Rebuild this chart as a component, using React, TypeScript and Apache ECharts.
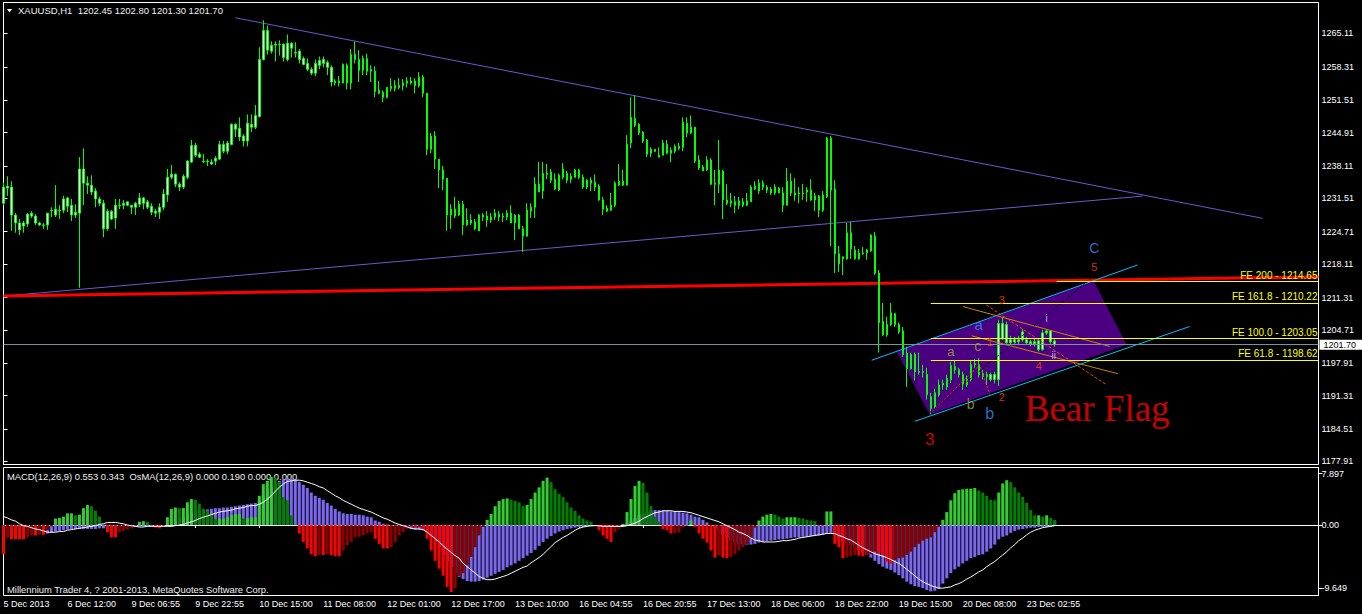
import React, { useEffect, useRef } from "react";
import * as echarts from "echarts";

const symbolName = "XAUUSD";
const timeframe = "H1";

// [open, close, low, high] per H1 bar
const candles: number[][] = [
  [1230.5,1233.8,1230.1,1234.8],[1233.6,1234.0,1232.0,1236.0],[1233.8,1228.1,1224.9,1235.0],[1228.1,1226.5,1224.5,1228.5],[1226.5,1225.1,1224.0,1227.3],
  [1225.9,1226.5,1224.5,1226.9],[1226.3,1228.3,1225.7,1228.5],[1228.5,1227.9,1227.5,1228.9],[1227.9,1226.5,1226.1,1228.3],[1226.5,1226.1,1225.9,1226.7],
  [1226.1,1226.0,1225.3,1226.5],[1226.1,1228.5,1225.1,1228.5],[1229.1,1229.0,1227.7,1229.7],[1228.1,1229.3,1227.7,1234.2],[1229.1,1229.0,1227.3,1230.1],
  [1229.1,1231.4,1228.5,1232.0],[1231.6,1229.9,1228.7,1231.8],[1230.1,1228.1,1226.9,1231.4],[1228.1,1228.7,1227.5,1230.3],[1228.5,1237.5,1213.3,1239.9],
  [1237.5,1234.6,1230.1,1241.7],[1234.6,1234.2,1232.4,1236.0],[1234.2,1232.8,1232.2,1236.2],[1233.0,1231.4,1229.7,1233.6],[1231.4,1230.5,1229.9,1231.8],
  [1230.5,1225.3,1223.6,1231.2],[1225.3,1228.9,1224.9,1229.3],[1228.9,1227.3,1227.1,1229.1],[1227.5,1230.1,1225.3,1231.4],[1230.1,1230.0,1229.3,1231.4],
  [1230.1,1230.5,1229.3,1231.2],[1230.8,1230.1,1229.9,1230.8],[1230.1,1229.7,1228.3,1230.1],[1229.7,1230.5,1228.1,1230.8],[1230.3,1231.6,1229.7,1232.6],
  [1231.6,1230.5,1229.3,1231.8],[1230.8,1229.7,1229.3,1231.2],[1229.9,1228.7,1228.1,1230.5],[1228.9,1228.5,1227.7,1229.3],[1228.7,1229.7,1227.3,1230.5],
  [1229.7,1232.4,1229.1,1233.4],[1232.2,1235.8,1230.8,1237.5],[1235.8,1236.4,1235.4,1238.3],[1236.4,1234.4,1233.8,1236.6],[1234.4,1233.8,1233.0,1234.8],
  [1233.8,1236.0,1233.4,1236.4],[1235.8,1239.1,1235.4,1239.3],[1238.9,1242.3,1238.7,1243.4],[1242.3,1240.3,1239.9,1242.8],[1240.5,1239.9,1239.7,1240.9],
  [1239.1,1239.0,1238.7,1240.5],[1239.1,1239.0,1238.1,1239.5],[1238.9,1238.5,1238.3,1239.5],[1239.1,1239.7,1238.3,1240.1],[1239.5,1242.5,1239.3,1243.2],
  [1242.5,1241.1,1240.7,1243.2],[1241.1,1242.8,1240.5,1243.2],[1242.5,1246.6,1242.3,1246.8],[1246.6,1245.6,1244.0,1246.8],[1245.8,1244.0,1243.2,1248.0],
  [1244.2,1243.2,1242.1,1244.6],[1243.2,1246.8,1242.1,1248.6],[1246.6,1246.0,1245.0,1248.6],[1246.0,1248.4,1245.6,1250.5],[1248.2,1259.8,1248.0,1262.3],
  [1259.8,1265.7,1259.6,1267.8],[1265.7,1261.7,1260.8,1266.7],[1262.7,1261.5,1261.0,1263.5],[1262.7,1262.9,1259.4,1263.5],[1262.9,1262.8,1260.6,1263.7],
  [1262.9,1260.2,1259.4,1263.1],[1259.8,1263.1,1259.4,1264.9],[1263.1,1262.1,1260.2,1263.3],[1261.2,1261.1,1260.2,1263.3],[1261.5,1259.8,1259.0,1261.9],
  [1260.0,1258.8,1258.6,1260.4],[1259.0,1257.8,1257.4,1260.0],[1257.8,1257.0,1256.6,1258.2],[1257.0,1259.0,1256.4,1259.8],[1258.6,1259.6,1257.8,1260.4],
  [1259.0,1259.8,1258.2,1260.4],[1259.2,1258.2,1256.6,1259.6],[1258.2,1255.2,1254.3,1258.6],[1255.4,1255.0,1254.5,1255.8],[1255.0,1255.4,1254.3,1256.4],
  [1255.0,1258.8,1255.0,1259.0],[1258.6,1255.0,1253.7,1259.0],[1255.0,1260.8,1253.7,1261.9],[1260.8,1259.8,1259.0,1263.5],[1259.8,1257.6,1255.2,1261.7],
  [1257.6,1260.0,1256.6,1260.6],[1260.0,1257.4,1256.6,1261.0],[1257.4,1257.8,1255.2,1258.6],[1257.4,1253.3,1252.1,1258.4],[1253.5,1252.9,1252.7,1255.4],
  [1253.1,1252.1,1251.1,1253.5],[1252.1,1254.1,1251.9,1254.1],[1253.9,1254.3,1253.3,1256.0],[1254.5,1253.9,1253.3,1255.6],[1254.1,1254.5,1253.7,1256.0],
  [1254.5,1255.0,1253.5,1255.8],[1255.0,1255.4,1254.1,1256.2],[1255.4,1255.0,1254.7,1256.2],[1255.4,1254.5,1252.9,1256.0],[1254.5,1256.2,1254.1,1257.2],
  [1256.2,1252.9,1252.1,1256.6],[1252.9,1241.5,1240.3,1252.9],[1241.5,1244.2,1240.7,1244.8],[1244.2,1239.5,1237.5,1245.2],[1239.5,1237.3,1233.6,1239.5],
  [1237.3,1235.4,1233.2,1238.1],[1235.6,1228.1,1224.9,1235.6],[1228.1,1229.3,1225.3,1230.3],[1229.3,1227.9,1227.5,1231.8],[1228.1,1230.3,1227.9,1231.0],
  [1230.3,1226.1,1224.0,1231.0],[1226.1,1227.1,1225.9,1229.5],[1227.1,1226.5,1226.1,1228.3],[1226.7,1225.3,1225.1,1227.3],[1224.9,1228.1,1224.9,1228.3],
  [1228.1,1227.7,1226.9,1228.5],[1227.9,1227.1,1225.7,1228.9],[1227.1,1227.7,1226.5,1228.5],[1227.7,1228.5,1227.1,1229.3],[1228.3,1227.7,1226.9,1228.9],
  [1227.9,1227.7,1226.7,1228.5],[1227.7,1228.5,1227.1,1229.1],[1228.5,1226.5,1226.5,1230.1],[1226.5,1228.1,1223.0,1228.3],[1228.1,1225.3,1225.3,1228.3],
  [1225.3,1223.8,1220.6,1225.9],[1223.8,1229.1,1223.8,1230.5],[1228.9,1229.7,1227.5,1230.5],[1229.7,1234.4,1227.5,1235.8],[1234.4,1232.8,1232.8,1238.9],
  [1233.0,1236.6,1231.4,1238.9],[1236.6,1236.4,1235.4,1238.5],[1236.9,1235.2,1234.6,1237.5],[1235.4,1233.4,1233.2,1236.6],[1233.2,1236.2,1233.0,1236.6],
  [1235.8,1237.5,1235.4,1238.7],[1236.6,1235.2,1234.6,1237.1],[1235.4,1236.0,1234.6,1236.6],[1235.8,1237.3,1235.8,1237.5],[1237.3,1235.8,1235.4,1237.5],
  [1235.8,1233.8,1233.4,1236.4],[1233.8,1235.2,1233.4,1235.4],[1235.2,1234.6,1233.0,1235.8],[1234.8,1233.8,1233.0,1236.4],[1234.0,1231.2,1231.0,1234.4],
  [1231.2,1229.3,1228.1,1231.8],[1229.5,1228.9,1228.7,1230.1],[1229.1,1230.1,1228.9,1232.6],[1230.1,1234.6,1229.7,1235.0],[1234.2,1235.0,1234.0,1238.5],
  [1235.0,1234.2,1234.0,1237.3],[1234.2,1242.5,1234.2,1244.4],[1242.8,1248.0,1241.7,1252.1],[1247.8,1246.4,1246.0,1252.5],[1246.6,1244.8,1244.4,1246.8],
  [1245.0,1243.2,1242.8,1245.2],[1243.4,1240.5,1239.9,1243.6],[1240.7,1241.5,1239.9,1241.9],[1241.5,1241.1,1240.9,1241.5],[1240.3,1239.9,1239.9,1241.9],
  [1240.3,1242.8,1240.3,1243.4],[1242.5,1240.7,1240.5,1243.4],[1240.7,1241.3,1238.9,1241.9],[1241.1,1242.1,1240.7,1242.5],[1242.1,1241.7,1241.3,1242.8],
  [1241.9,1247.0,1241.1,1248.0],[1246.8,1244.8,1244.0,1248.0],[1244.8,1246.0,1244.6,1248.4],[1246.0,1239.1,1238.7,1246.0],[1239.3,1237.7,1237.3,1240.3],
  [1237.9,1237.1,1237.1,1238.3],[1237.3,1239.3,1237.1,1240.1],[1239.3,1234.4,1234.2,1239.7],[1234.6,1234.4,1230.1,1237.3],[1234.4,1237.3,1232.6,1243.4],
  [1237.1,1231.2,1227.3,1237.3],[1231.2,1230.5,1230.1,1234.4],[1231.0,1230.5,1229.7,1232.6],[1230.8,1230.1,1228.5,1232.0],[1230.1,1231.0,1229.3,1231.8],
  [1230.8,1230.1,1229.7,1231.6],[1230.1,1231.0,1229.9,1232.6],[1230.8,1233.8,1230.8,1234.2],[1234.0,1233.4,1233.2,1235.0],[1233.0,1234.6,1232.4,1235.4],
  [1234.6,1233.8,1233.2,1235.2],[1233.8,1233.2,1232.6,1234.2],[1233.4,1232.6,1232.2,1233.8],[1232.6,1233.8,1232.2,1234.4],[1233.6,1232.6,1232.6,1233.8],
  [1232.6,1230.1,1228.7,1233.8],[1230.1,1235.0,1230.1,1237.7],[1235.0,1232.6,1232.0,1236.6],[1232.6,1232.2,1231.0,1235.6],[1232.6,1232.4,1230.5,1233.8],
  [1232.4,1232.6,1231.2,1234.4],[1232.8,1233.2,1230.8,1233.8],[1233.2,1231.2,1231.0,1235.4],[1231.2,1232.0,1228.9,1232.6],[1232.0,1229.1,1227.7,1232.2],
  [1229.1,1232.2,1228.7,1233.0],[1231.8,1243.8,1231.6,1244.0],[1243.8,1233.2,1221.8,1244.2],[1233.4,1220.2,1216.3,1235.2],[1220.2,1218.2,1216.5,1221.8],
  [1219.6,1219.2,1215.9,1219.6],[1219.2,1224.5,1219.0,1226.5],[1224.5,1221.2,1219.2,1226.7],[1221.0,1219.2,1219.0,1221.8],[1219.2,1220.4,1219.0,1221.2],
  [1220.4,1220.2,1220.0,1221.6],[1220.4,1221.0,1219.0,1221.2],[1220.8,1224.0,1220.6,1224.2],[1223.8,1216.3,1215.9,1224.7],[1216.3,1206.2,1200.1,1216.9],
  [1206.4,1203.7,1203.5,1210.2],[1203.7,1205.8,1203.3,1207.4],[1205.8,1208.2,1205.5,1210.2],[1208.0,1205.8,1205.3,1208.2],[1205.8,1204.3,1203.9,1206.2],
  [1204.5,1199.7,1199.2,1205.3],[1199.9,1196.8,1193.1,1201.3],[1196.8,1199.7,1196.6,1200.1],[1199.7,1196.2,1194.4,1200.1],[1196.2,1196.1,1195.6,1200.1],
  [1196.2,1196.1,1195.0,1197.6],[1195.6,1191.5,1190.5,1197.0],[1191.1,1188.7,1187.5,1191.9],[1189.1,1191.9,1188.7,1192.7],[1191.5,1193.5,1191.1,1194.6],
  [1193.5,1193.8,1192.5,1194.6],[1193.1,1194.8,1192.5,1195.6],[1194.6,1197.4,1193.9,1198.2],[1197.2,1196.6,1195.8,1198.4],[1196.6,1195.6,1195.0,1197.0],
  [1195.6,1193.5,1192.5,1196.2],[1193.5,1194.6,1193.1,1195.4],[1194.6,1197.6,1194.2,1198.6],[1197.6,1197.8,1197.0,1198.8],[1197.6,1195.6,1195.0,1199.0],
  [1195.8,1195.2,1194.6,1196.6],[1195.2,1195.6,1193.5,1196.2],[1195.6,1194.6,1194.2,1196.0],[1194.6,1195.6,1193.8,1196.2],[1194.6,1206.0,1193.3,1206.8],
  [1206.0,1202.9,1202.7,1207.4],[1205.8,1202.1,1201.7,1206.4],[1202.7,1202.1,1201.7,1203.5],[1202.1,1202.7,1201.9,1203.3],[1202.7,1202.3,1201.7,1203.5],
  [1202.7,1204.3,1202.3,1204.9],[1202.7,1202.1,1201.7,1203.3],[1202.3,1201.9,1201.5,1202.7],[1201.9,1202.3,1201.3,1202.9],[1202.5,1200.7,1200.3,1202.9],
  [1200.7,1204.1,1200.5,1204.7],[1204.1,1204.5,1203.7,1204.9],[1204.5,1202.3,1201.9,1204.7],[1202.45,1201.70,1201.30,1202.80],
];

const macd: number[] = [
  -1.0,-1.0,-1.1,-1.2,-1.3,-1.3,-1.3,-1.3,-1.3,-1.3,
  -1.3,-1.3,-1.2,-1.0,-0.9,-0.8,-0.7,-0.6,-0.6,-0.6,
  -0.6,-0.6,-0.6,-0.6,-0.5,-0.5,-0.5,-0.4,-0.4,-0.4,
  -0.4,-0.3,-0.3,-0.3,-0.2,-0.2,-0.2,-0.2,-0.2,-0.2,
  -0.1,0.0,0.3,0.6,0.9,1.2,1.5,1.8,2.0,2.2,
  2.3,2.4,2.5,2.6,2.6,2.7,2.7,2.8,2.9,3.0,
  3.1,3.2,3.3,3.4,3.8,4.5,5.2,5.8,6.3,6.8,
  7.0,7.1,7.1,7.0,6.6,6.2,5.7,5.0,4.5,4.2,
  3.9,3.4,3.0,2.5,2.1,1.8,1.7,1.7,1.6,1.6,
  1.5,1.3,1.2,0.7,0.5,0.2,0.1,0.0,-0.1,-0.2,
  -0.2,-0.3,-0.6,-0.7,-0.7,-0.8,-1.2,-1.8,-2.6,-3.4,
  -4.6,-5.6,-6.5,-7.3,-8.0,-8.3,-8.6,-8.7,-8.7,-8.6,
  -8.4,-8.1,-7.8,-7.5,-7.2,-6.9,-6.5,-6.2,-5.9,-5.5,
  -5.1,-4.7,-4.3,-3.8,-3.2,-2.6,-2.1,-1.7,-1.3,-1.0,
  -0.8,-0.6,-0.5,-0.4,-0.3,-0.3,-0.2,-0.2,-0.1,-0.2,
  -0.3,-0.3,-0.3,-0.2,-0.1,0.0,0.3,0.7,1.1,1.5,
  1.8,2.0,2.2,2.3,2.3,2.2,2.2,2.1,2.1,2.0,
  1.9,1.8,1.6,1.3,1.2,0.8,0.4,0.0,-0.5,-1.0,
  -1.5,-2.0,-2.4,-2.7,-2.9,-3.0,-3.0,-3.0,-2.9,-2.7,
  -2.6,-2.5,-2.4,-2.3,-2.2,-2.2,-2.1,-2.0,-1.9,-1.9,
  -1.8,-1.8,-1.7,-1.7,-1.6,-1.5,-1.3,-1.2,-1.6,-2.2,
  -2.5,-2.8,-3.1,-3.4,-3.8,-4.2,-4.6,-5.0,-5.5,-6.0,
  -6.4,-6.7,-6.9,-7.3,-7.7,-8.2,-8.7,-9.1,-9.4,-9.5,
  -9.7,-10.0,-10.2,-10.1,-9.8,-9.0,-8.2,-7.4,-6.8,-6.4,
  -5.9,-5.5,-5.1,-4.9,-4.6,-4.5,-4.1,-3.6,-3.0,-2.2,
  -1.8,-1.6,-1.2,-0.9,-0.7,-0.6,-0.5,-0.4,-0.4,-0.3,
  -0.3,-0.3,-0.3,0.5,
];

const osma: number[] = [
  -4.5,-1.9,-2.2,-2.2,-2.2,-2.2,-1.8,-1.6,-1.6,-1.5,
  -1.5,-0.8,-0.2,1.0,1.1,1.3,1.8,1.8,1.5,1.6,
  2.6,3.1,2.9,2.2,1.3,0.1,-1.1,-1.9,-1.9,-1.1,
  -0.9,-0.7,-0.5,-0.1,0.5,0.6,0.5,0.0,-0.4,-0.5,
  -0.1,1.2,2.5,2.7,2.6,2.6,3.5,4.0,3.9,3.3,
  2.5,2.2,1.7,1.0,1.0,1.0,1.2,1.5,1.7,1.7,
  1.0,1.1,1.2,1.2,4.5,6.3,6.8,7.4,7.3,6.6,
  4.3,3.8,1.5,0.1,-1.3,-2.6,-3.6,-4.5,-4.8,-4.6,
  -4.6,-4.5,-4.6,-4.8,-4.8,-3.9,-3.1,-2.6,-1.9,-1.8,
  -1.6,-1.3,-1.1,-2.1,-2.9,-3.6,-3.6,-3.4,-2.6,-1.6,
  -1.1,-0.6,-0.2,-0.4,-0.3,-0.8,-2.1,-3.9,-5.5,-6.7,
  -7.8,-9.5,-10.3,-9.7,-7.9,-7.4,-6.2,-4.9,-3.4,-1.6,
  -0.3,0.8,1.7,2.9,3.7,4.0,4.1,3.9,3.7,3.5,
  2.9,3.1,4.0,5.0,5.8,6.8,7.3,6.6,5.5,4.8,
  4.3,3.5,2.7,2.2,1.5,1.0,0.7,0.5,0.0,-0.8,
  -1.6,-2.1,-2.6,-1.1,-0.6,0.2,2.0,4.0,6.0,6.8,
  6.5,5.0,2.9,1.3,0.5,-0.6,-0.8,-1.3,-1.2,-1.1,
  -0.4,-0.1,0.7,-0.3,-1.3,-2.1,-2.7,-3.9,-5.0,-4.6,
  -5.0,-5.1,-4.9,-4.5,-3.9,-3.4,-2.9,-2.1,-0.4,0.7,
  1.3,1.6,1.7,1.6,1.3,1.0,1.2,1.2,1.2,1.1,
  1.0,0.8,0.7,0.6,-0.1,-0.1,2.1,2.1,-2.9,-3.4,
  -5.1,-4.9,-4.8,-4.6,-4.7,-4.8,-4.6,-4.5,-4.1,-4.4,
  -4.6,-5.6,-5.9,-5.4,-5.1,-5.0,-4.6,-4.1,-3.4,-2.9,
  -2.4,-2.1,-1.9,-1.1,-0.3,0.8,2.0,3.8,4.9,5.4,
  5.5,5.6,5.6,5.7,5.3,5.0,4.5,3.9,3.8,5.0,
  6.4,6.9,6.6,5.8,5.0,4.3,3.4,2.3,1.5,1.5,
  1.3,1.5,1.1,0.8,
];

const signal: number[] = [
  1.3,1.1,0.8,0.6,0.2,-0.1,-0.2,-0.4,-0.6,-0.7,
  -0.9,-1.1,-1.1,-1.1,-1.0,-1.0,-0.8,-0.7,-0.6,-0.5,
  -0.4,-0.3,-0.2,-0.1,0.1,0.2,0.4,0.4,0.4,0.3,
  0.2,0.0,-0.1,-0.2,-0.3,-0.3,-0.2,-0.2,-0.2,-0.2,
  -0.2,-0.2,-0.2,-0.1,0.0,0.1,0.3,0.5,0.7,1.0,
  1.2,1.4,1.6,1.8,2.0,2.1,2.2,2.3,2.5,2.6,
  2.7,2.9,3.0,3.0,3.2,3.5,4.0,4.5,5.2,5.8,
  6.3,6.7,6.8,6.9,6.9,6.8,6.6,6.4,6.2,5.9,
  5.7,5.3,4.9,4.5,4.2,3.8,3.5,3.2,2.9,2.6,
  2.4,2.2,2.0,1.7,1.4,1.1,0.9,0.6,0.3,0.1,
  -0.1,-0.3,-0.5,-0.6,-0.6,-0.7,-1.1,-1.6,-2.1,-2.6,
  -3.2,-3.7,-4.2,-4.7,-5.1,-5.9,-6.4,-6.9,-7.4,-7.9,
  -8.2,-8.4,-8.4,-8.3,-8.1,-7.9,-7.7,-7.4,-7.1,-6.8,
  -6.5,-6.3,-5.8,-5.4,-5.0,-4.5,-3.9,-3.3,-2.7,-2.3,
  -1.9,-1.6,-1.2,-0.8,-0.5,-0.3,-0.2,-0.1,-0.1,-0.1,
  -0.2,-0.2,-0.2,-0.2,-0.2,-0.2,-0.1,0.1,0.3,0.6,
  1.0,1.3,1.6,1.9,2.0,2.2,2.2,2.2,2.1,2.1,
  2.1,2.0,1.9,1.7,1.5,1.3,1.1,0.9,0.7,0.5,
  0.2,-0.1,-0.4,-0.7,-1.1,-1.3,-1.6,-2.0,-2.3,-2.4,
  -2.6,-2.6,-2.6,-2.6,-2.5,-2.4,-2.4,-2.3,-2.2,-2.0,
  -1.9,-1.8,-1.7,-1.6,-1.5,-1.4,-1.3,-1.3,-1.3,-1.6,
  -1.8,-2.1,-2.3,-2.7,-3.1,-3.5,-3.8,-4.1,-4.4,-4.6,
  -4.8,-5.0,-5.3,-5.6,-5.9,-6.3,-6.8,-7.3,-7.8,-8.3,
  -8.7,-9.0,-9.3,-9.5,-9.7,-9.7,-9.6,-9.5,-9.2,-9.0,
  -8.7,-8.3,-8.0,-7.6,-7.2,-6.9,-6.4,-6.0,-5.6,-5.1,
  -4.6,-4.1,-3.5,-3.0,-2.4,-2.0,-1.5,-1.1,-0.8,-0.6,
  -0.4,-0.3,-0.2,-0.1,
];

const priceTicks = [1265.11, 1258.31, 1251.51, 1244.91, 1238.11, 1231.51, 1224.71, 1218.11, 1211.31, 1204.71, 1197.91, 1191.31, 1184.51, 1177.91];
const macdTickValues = [7.897, 0, -9.649];
const macdTickLabels = ["7.897", "0.00", "-9.649"];
const xTickLabels = ["5 Dec 2013", "6 Dec 12:00", "9 Dec 06:55", "9 Dec 22:55", "10 Dec 15:00", "11 Dec 08:00", "12 Dec 01:00", "12 Dec 17:00", "13 Dec 10:00", "16 Dec 04:55", "16 Dec 20:55", "17 Dec 13:00", "18 Dec 06:00", "18 Dec 22:00", "19 Dec 15:00", "20 Dec 08:00", "23 Dec 02:55"];
const barsPerLabel = 16;
const slotCount = 330;

const macdHeader = [0.553, 0.343];
const osmaHeader = [0.0, 0.19, 0.0, 0.0];
const copyrightText = "Millennium Trader 4, ? 2001-2013, MetaQuotes Software Corp.";

// overlays, in [bar index, price]
const upperTrend = [[58, 1268.3], [315, 1227.44]];
const lowerTrend = [[0, 1211.6], [285, 1231.97]];
const redLine = [[0, 1211.64], [329, 1215.5]];
const channelUpper = [[217.25, 1198.53], [283.75, 1217.95]];
const channelLower = [[228, 1186.09], [296.75, 1205.4]];
const orangeLine1 = [[240, 1209.47], [276.75, 1201.34]];
const orangeLine2 = [[242.2, 1203.51], [278.8, 1195.79]];
const redDashed = [[245.9, 1209.8], [275.9, 1193.55]];
const blackDotted = [[231.75, 1187.86], [272.5, 1215.5]];
const zigzag = [[232.5, 1188.26], [244.25, 1197.6], [246.75, 1191.5]];
const flagX = [223.5, 272.75, 281, 231.75];
const flagY = [1200.26, 1214.69, 1201.68, 1187.45];

const feRatios = ["200", "161.8", "100.0", "61.8"];
const fePrices = [1214.65, 1210.22, 1203.05, 1198.62];
const feStart = [263.5, 232, 232, 232];

const waveText = ["C", "5", "3", "a", "i", "c", "1", "a", "ii", "4", "2", "b", "b", "3", "Bear Flag"];
const waveX = [272.9, 272.9, 249.75, 244, 261, 243.75, 246.75, 237, 262.75, 259, 249.75, 242, 246.75, 231.75, 255.5];
const waveY = [1221.4, 1217.5, 1210.8, 1205.75, 1206.97, 1201.48, 1202.3, 1200.26, 1199.45, 1197.41, 1191.1, 1189.69, 1187.65, 1182.37, 1188.67];
const waveColor = ["#2F8FFF", "#FF4500", "#FF4500", "#2F8FFF", "#D8D8FF", "#A8A83C", "#FF4500", "#A8A83C", "#D8D8FF", "#FF4500", "#FF4500", "#A8A83C", "#2F8FFF", "#FF0000", "#FF0000"];
const waveSize = [14, 11, 11, 15, 10, 14, 11, 13, 10, 11, 11, 14, 16, 17, 37];

const FONT = "Liberation Sans";

export default function App() {
  const ref = useRef<HTMLDivElement>(null);
  useEffect(() => {
    if (!ref.current) return;
    const chart = echarts.init(ref.current, undefined, { renderer: "svg" });
    const cats = Array.from({ length: slotCount }, (_, i) => String(i));
    const last = candles[candles.length - 1];
    const lastClose = last[1];
    const labelInterval = (idx: number) => idx % barsPerLabel === 0 && idx / barsPerLabel < xTickLabels.length;

    const osmaData = osma.map((v, i) => {
      const prev = i > 0 ? osma[i - 1] : v;
      let color;
      if (v >= 0) color = v >= prev ? "#32CD32" : "#008000";
      else color = v <= prev ? "#FF0000" : "#8B0000";
      return { value: v, itemStyle: { color } };
    });

    const lineSeries = (data: number[][], color: string, width: number, type: any = "solid", z = 2) => ({
      type: "line", xAxisIndex: 2, yAxisIndex: 0, data, symbol: "none", silent: true, z,
      lineStyle: { color, width, type }, animation: false,
    });

    const title = `${symbolName},${timeframe}  ${last[0].toFixed(2)} ${last[3].toFixed(2)} ${last[2].toFixed(2)} ${last[1].toFixed(2)}`;
    const macdTitle = `MACD(12,26,9) ${macdHeader[0].toFixed(3)} ${macdHeader[1].toFixed(3)}  OsMA(12,26,9) ${osmaHeader.map((v) => v.toFixed(3)).join(" ")}`;

    const option: any = {
      animation: false,
      backgroundColor: "#000000",
      grid: [
        { left: 3.5, top: 2.5, width: 1315, height: 462, show: true, borderColor: "#FFFFFF", borderWidth: 1 },
        { left: 3.5, top: 467.5, width: 1315, height: 128, show: true, borderColor: "#FFFFFF", borderWidth: 1 },
      ],
      xAxis: [
        { type: "category", gridIndex: 0, data: cats, boundaryGap: false, show: false, min: 0, max: slotCount - 1 },
        {
          type: "category", gridIndex: 1, data: cats, boundaryGap: false,
          axisLine: { show: true, lineStyle: { color: "#FFFFFF" } },
          axisTick: { show: true, interval: labelInterval, length: 3, lineStyle: { color: "#FFFFFF" } },
          axisLabel: {
            show: true, interval: labelInterval, color: "#FFFFFF", fontSize: 9, fontFamily: FONT, align: "left", margin: 4,
            formatter: (_v: string, idx: number) => xTickLabels[Math.round(idx / barsPerLabel)] ?? "",
          },
          splitLine: { show: false },
        },
        { type: "value", gridIndex: 0, min: 0, max: slotCount - 1, show: false },
      ],
      yAxis: [
        {
          type: "value", gridIndex: 0, position: "right", min: 1177.29, max: 1271.41,
          splitLine: { show: false },
          axisLine: { show: true, lineStyle: { color: "#FFFFFF" } },
          axisTick: { show: true, customValues: priceTicks, length: 4, lineStyle: { color: "#FFFFFF" } },
          axisLabel: { show: true, customValues: priceTicks, color: "#FFFFFF", fontSize: 9, fontFamily: FONT, margin: 3, formatter: (v: number) => v.toFixed(2) },
        },
        {
          type: "value", gridIndex: 1, position: "right", min: -10.83, max: 8.85,
          splitLine: { show: false },
          axisLine: { show: true, lineStyle: { color: "#FFFFFF" } },
          axisTick: { show: true, customValues: macdTickValues, length: 4, lineStyle: { color: "#FFFFFF" } },
          axisLabel: {
            show: true, customValues: macdTickValues, color: "#FFFFFF", fontSize: 9, fontFamily: FONT, margin: 3,
            formatter: (v: number) => {
              const k = macdTickValues.findIndex((t) => Math.abs(t - v) < 1e-6);
              return k >= 0 ? macdTickLabels[k] : "";
            },
          },
        },
      ],
      series: [
        {
          type: "custom", xAxisIndex: 2, yAxisIndex: 0, z: 1, silent: true,
          data: flagX.map((x, k) => [x, flagY[k]]),
          renderItem: (params: any, api: any) => {
            if (params.dataIndex !== 0) return null;
            const pts = flagX.map((x, k) => api.coord([x, flagY[k]]));
            return { type: "polygon", shape: { points: pts }, style: { fill: "#4B0082" } };
          },
        },
        {
          ...lineSeries(lowerTrend, "#6A5ACD", 1),
          markLine: {
            silent: true, symbol: "none", animation: false,
            data: [
              ...fePrices.map((p, k) => [
                {
                  coord: [feStart[k], p],
                  lineStyle: { color: "#FFFF00", width: 1, type: "solid" },
                  label: {
                    show: true, position: "insideEndTop", distance: 1, color: "#FFFF00", fontSize: 10, fontFamily: FONT,
                    formatter: `FE ${feRatios[k]} - ${p.toFixed(2)}`,
                  },
                },
                { coord: [slotCount - 1, p] },
              ]),
              {
                yAxis: lastClose,
                lineStyle: { color: "#8090A0", width: 1, type: "solid" },
                label: {
                  show: true, position: "end", distance: 1, color: "#000000", backgroundColor: "#FFFFFF",
                  padding: [1, 6, 0, 4], fontSize: 9, fontFamily: FONT, formatter: lastClose.toFixed(2),
                },
              },
            ],
          },
        },
        lineSeries(upperTrend, "#6A5ACD", 1),
        lineSeries(redLine, "#FF0000", 3),
        lineSeries(channelUpper, "#00BFFF", 1, "solid", 4),
        lineSeries(channelLower, "#00BFFF", 1, "solid", 4),
        lineSeries(orangeLine1, "#CC8400", 1, "solid", 4),
        lineSeries(orangeLine2, "#CC8400", 1, "solid", 4),
        lineSeries(redDashed, "#FF4500", 1, [3, 2], 4),
        lineSeries(blackDotted, "#000000", 1, [2, 2], 4),
        lineSeries(zigzag, "#FF3030", 1, [2, 2], 4),
        {
          type: "candlestick", xAxisIndex: 0, yAxisIndex: 0, data: candles, barWidth: 2, z: 3,
          itemStyle: { color: "#FFFFFF", color0: "#FFFFFF", borderColor: "#00FF00", borderColor0: "#00FF00", borderColorDoji: "#00FF00", borderWidth: 1 },
        },
        {
          type: "scatter", xAxisIndex: 2, yAxisIndex: 0, z: 6, silent: true, symbolSize: 1,
          itemStyle: { color: "rgba(0,0,0,0)" },
          data: waveText.map((t, k) => ({
            value: [waveX[k], waveY[k]], name: t,
            label: {
              show: true, position: "inside", formatter: t, color: waveColor[k], fontSize: waveSize[k],
              fontFamily: t.length > 2 ? "Liberation Serif" : FONT,
              align: t.length > 2 ? "left" : "center", verticalAlign: "middle",
            },
          })),
        },
        {
          type: "bar", xAxisIndex: 1, yAxisIndex: 1, data: macd, barWidth: 3, barGap: "-100%",
          itemStyle: { color: "#7B68EE" }, silent: true, z: 2,
        },
        {
          type: "bar", xAxisIndex: 1, yAxisIndex: 1, data: osmaData, barWidth: 3, barGap: "-100%", silent: true, z: 3,
        },
        {
          type: "line", xAxisIndex: 1, yAxisIndex: 1, data: signal, symbol: "none", silent: true, z: 4,
          lineStyle: { color: "#FFFFFF", width: 1 },
        },
      ],
      graphic: [
        { type: "polygon", shape: { points: [[7, 9], [12, 9], [9.5, 12.5]] }, style: { fill: "#FFFFFF" } },
        { type: "text", x: 18, y: 10, style: { text: title, fill: "#F0F0F0", fontSize: 9.5, fontFamily: FONT, verticalAlign: "middle" } },
        { type: "text", x: 7, y: 476, style: { text: macdTitle, fill: "#F0F0F0", fontSize: 9.4, fontFamily: FONT, verticalAlign: "middle" } },
        { type: "text", x: 7, y: 589, style: { text: copyrightText, fill: "#F0F0F0", fontSize: 9.4, fontFamily: FONT, verticalAlign: "middle" } },
      ],
    };
    chart.setOption(option);
    return () => chart.dispose();
  }, []);
  return (
    <div
      ref={ref}
      style={{ position: "fixed", left: 0, top: 0, width: 1362, height: 614, background: "#000000" }}
    />
  );
}
